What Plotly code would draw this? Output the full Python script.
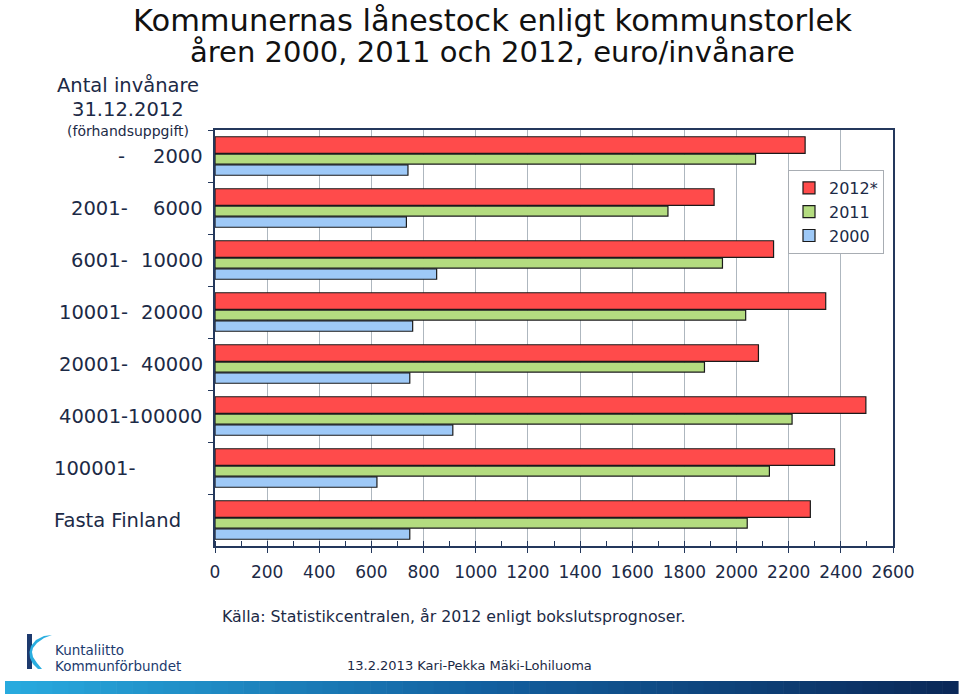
import plotly.graph_objects as go

# ---------------- data ----------------
categories = ["- 2000", "2001- 6000", "6001- 10000", "10001- 20000",
              "20001- 40000", "40001-100000", "100001-", "Fasta Finland"]
label_from = ["-", "2001-", "6001-", "10001-", "20001-", "40001-100000", "100001-", "Fasta Finland"]
label_to = ["2000", "6000", "10000", "20000", "40000", "", "", ""]
label_style = ["split", "split", "split", "split", "split", "right", "left", "left"]

series_names = ["2012*", "2011", "2000"]
values_2012 = [2263, 1914, 2142, 2342, 2084, 2496, 2376, 2283]
values_2011 = [2073, 1737, 1946, 2035, 1877, 2213, 2126, 2041]
values_2000 = [740, 734, 850, 758, 747, 912, 621, 747]

x_ticks = list(range(0, 2601, 200))

title_line1 = "Kommunernas lånestock enligt kommunstorlek"
title_line2 = "åren 2000, 2011 och 2012, euro/invånare"
header_lines = ["Antal invånare", "31.12.2012", "(förhandsuppgift)"]
source_text = "Källa: Statistikcentralen, år 2012 enligt bokslutsprognoser."
footer_text = "13.2.2013 Kari-Pekka Mäki-Lohiluoma"
logo_lines = ["Kuntaliitto", "Kommunförbundet"]

# ---------------- style ----------------
FONT = "DejaVu Sans"
NAVY = "#1c2a46"
FRAME = "#24385c"
colors = ["#ff4b4b", "#b4dc80", "#9ec9f7"]
offsets = [-0.37, -0.035, 0.17]
widths = [0.32, 0.19, 0.20]

W, H = 960, 696
ML, MR, MT, MB = 215, 67, 130, 150
PW, PH = W - ML - MR, H - MT - MB


def px(x):
    return (x - ML) / PW


def py(y):
    return (H - MB - y) / PH


fig = go.Figure()
for name, vals, c, off, wd in zip(series_names, [values_2012, values_2011, values_2000],
                                  colors, offsets, widths):
    fig.add_trace(go.Bar(
        name=name, x=vals, y=categories, orientation="h",
        offset=off, width=wd,
        marker=dict(color=c, line=dict(color="#1a1a1a", width=1.2)),
    ))

annotations = []
# title
annotations.append(dict(text=title_line1, x=px(492), y=py(1), xref="paper", yref="paper",
                        showarrow=False, font=dict(family=FONT, size=30.5, color="#111111"),
                        xanchor="center", yanchor="top"))
annotations.append(dict(text=title_line2, x=px(492), y=py(52), xref="paper", yref="paper",
                        showarrow=False, font=dict(family=FONT, size=29, color="#111111"),
                        xanchor="center", yanchor="middle"))
# left header
for txt, yy, sz in zip(header_lines, [86, 109, 131], [19.5, 19.5, 14]):
    annotations.append(dict(text=txt, x=px(128), y=py(yy), xref="paper", yref="paper",
                            showarrow=False, font=dict(family=FONT, size=sz, color=NAVY),
                            xanchor="center", yanchor="middle"))
# category labels
for i, (a, b, st) in enumerate(zip(label_from, label_to, label_style)):
    f = dict(family=FONT, size=19.5, color=NAVY)
    if st == "split":
        annotations.append(dict(text=a, x=px(130 if a != "-" else 127), y=i, xref="paper", yref="y",
                                showarrow=False, font=f, xanchor="right", yanchor="middle"))
        annotations.append(dict(text=b, x=px(205), y=i, xref="paper", yref="y",
                                showarrow=False, font=f, xanchor="right", yanchor="middle"))
    elif st == "right":
        annotations.append(dict(text=a, x=px(205), y=i, xref="paper", yref="y",
                                showarrow=False, font=f, xanchor="right", yanchor="middle"))
    else:
        annotations.append(dict(text=a, x=px(52), y=i, xref="paper", yref="y",
                                showarrow=False, font=f, xanchor="left", yanchor="middle"))
# source + footer
annotations.append(dict(text=source_text, x=px(220), y=py(616), xref="paper", yref="paper",
                        showarrow=False, font=dict(family=FONT, size=15.8, color=NAVY),
                        xanchor="left", yanchor="middle"))
annotations.append(dict(text=footer_text, x=px(469), y=py(665), xref="paper", yref="paper",
                        showarrow=False, font=dict(family=FONT, size=13, color=NAVY),
                        xanchor="center", yanchor="middle"))
for txt, yy in zip(logo_lines, [650, 666]):
    annotations.append(dict(text=txt, x=px(53), y=py(yy), xref="paper", yref="paper",
                            showarrow=False, font=dict(family=FONT, size=13.5, color="#1c3b6e"),
                            xanchor="left", yanchor="middle"))

shapes = []
# gradient bar at the bottom
def lerp(c1, c2, t):
    return "rgb(%d,%d,%d)" % tuple(round(a + (b - a) * t) for a, b in zip(c1, c2))

c_left, c_mid, c_right = (40, 170, 222), (18, 96, 160), (10, 40, 88)
n = 60
x0, x1 = 5, 958
for k in range(n):
    t = k / (n - 1)
    col = lerp(c_left, c_mid, t * 2) if t < 0.5 else lerp(c_mid, c_right, (t - 0.5) * 2)
    a = x0 + (x1 - x0) * k / n
    b = x0 + (x1 - x0) * (k + 1) / n + 0.6
    shapes.append(dict(type="rect", xref="paper", yref="paper",
                       x0=px(a), x1=px(b), y0=py(694), y1=py(681),
                       fillcolor=col, line=dict(width=0), layer="above"))

# logo mark
def path(points):
    s = "M %f,%f" % (px(points[0][0]), py(points[0][1]))
    for p in points[1:]:
        s += " L %f,%f" % (px(p[0]), py(p[1]))
    return s + " Z"

shapes.append(dict(type="rect", xref="paper", yref="paper", x0=px(27), x1=px(32),
                   y0=py(669), y1=py(634), fillcolor="#1d3a6e", line=dict(width=0)))
crescent = [(52, 635), (44, 638), (37, 643), (33, 648), (32, 652), (33, 657), (37, 663),
            (42, 669), (38, 669), (33, 664), (30, 658), (29.5, 652), (31, 646),
            (36, 640), (44, 636)]
shapes.append(dict(type="path", xref="paper", yref="paper", path=path(crescent),
                   fillcolor="#2aaee0", line=dict(width=0)))

fig.update_layout(
    width=W, height=H,
    margin=dict(l=ML, r=MR, t=MT, b=MB),
    paper_bgcolor="white", plot_bgcolor="white",
    barmode="overlay",
    showlegend=True,
    legend=dict(x=px(884), y=py(170), xanchor="right", yanchor="top",
                bgcolor="white", bordercolor="#a8adb3", borderwidth=1,
                font=dict(family=FONT, size=16, color=NAVY), traceorder="normal",
                itemwidth=30, tracegroupgap=0),
    xaxis=dict(range=[0, 2600], tickvals=x_ticks, ticktext=[str(v) for v in x_ticks],
               showgrid=True, gridcolor="#aeb7bf", gridwidth=1,
               ticks="outside", ticklen=5, tickcolor=FRAME,
               showline=True, linecolor=FRAME, linewidth=1.5, mirror=True,
               zeroline=False, ticklabelstandoff=5,
               tickfont=dict(family=FONT, size=17, color=NAVY),
               minor=dict(dtick=100, tick0=0, ticks="inside", ticklen=5,
                          tickcolor=FRAME, showgrid=False)),
    yaxis=dict(type="category", categoryorder="array", categoryarray=categories,
               range=[7.5, -0.5], showticklabels=False, ticks="outside", ticklen=5,
               tickson="boundaries", tickcolor=FRAME, showgrid=False,
               showline=True, linecolor=FRAME, linewidth=1.5, mirror=True),
    annotations=annotations,
    shapes=shapes,
    font=dict(family=FONT, color=NAVY),
)

fig.write_html("out.html", config={"displayModeBar": False},
               post_script="document.body.style.margin='0';document.body.style.overflow='hidden';")
